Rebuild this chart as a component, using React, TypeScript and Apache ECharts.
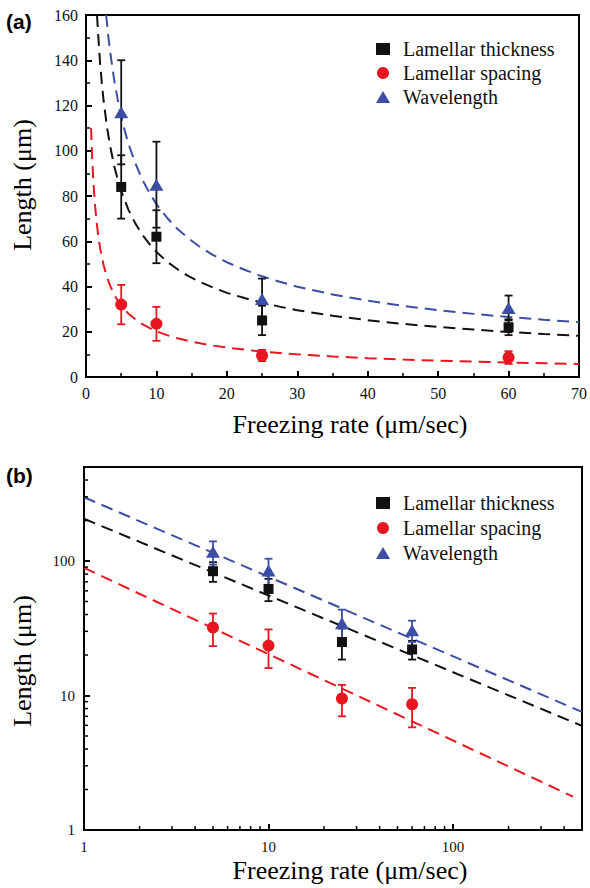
import React, { useEffect, useRef } from 'react';
import * as echarts from 'echarts';

// Measured data (same in both panels)
const rates = [5, 10, 25, 60];
const thickness = [84, 62, 25, 22];
const thicknessErr = [14, 11.7, 6.5, 3.5];
const spacing = [32, 23.5, 9.5, 8.6];
const spacingErr = [8.7, 7.5, 2.5, 2.8];
const wavelength = [117, 85, 34.5, 30.5];
const wavelengthErr = [23, 19, 9, 5.5];

// Fitted (dashed) curves
const fitThicknessA = [[1.56, 160], [1.75, 150.5], [2, 138.7], [2.25, 129.8], [2.5, 122.1], [3, 110], [3.5, 101], [4, 93.3], [4.5, 87.4], [5, 82.2], [6, 74.1], [7, 67.9], [8, 62.8], [9, 58.8], [10, 55.3], [11.5, 51], [13, 47.6], [14.5, 44.7], [16, 42.3], [18, 39.6], [20, 37.2], [22.5, 34.9], [25, 32.8], [27.5, 31.1], [30, 29.5], [35, 27.1], [40, 25.1], [45, 23.5], [50, 22.1], [55, 21], [60, 19.9], [65, 19], [70, 18.2]];
const fitSpacingA = [[0.72, 110], [0.8, 103.2], [0.9, 95.3], [1, 89], [1.25, 77.1], [1.5, 68.6], [1.75, 62.2], [2, 57], [2.5, 49.4], [3, 43.9], [3.5, 39.8], [4, 36.5], [4.5, 33.8], [5, 31.6], [6, 28.1], [7, 25.5], [8, 23.4], [9, 21.7], [10, 20.2], [11.5, 18.5], [13, 17.1], [14.5, 16], [16, 15], [18, 13.9], [20, 13], [22.5, 12.1], [25, 11.2], [27.5, 10.6], [30, 10], [35, 9.1], [40, 8.3], [45, 7.7], [50, 7.2], [55, 6.8], [60, 6.4], [65, 6.1], [70, 5.8]];
const fitWavelengthA = [[2.86, 160], [3.2, 149.6], [3.5, 142.1], [4, 131.4], [4.5, 122.7], [5, 115.1], [5.5, 108.9], [6, 103.3], [7, 94.5], [8, 87.2], [9, 81.4], [10, 76.4], [11.5, 70.4], [13, 65.4], [14.5, 61.4], [16, 57.9], [18, 54], [20, 50.7], [22.5, 47.4], [25, 44.5], [27.5, 42.1], [30, 39.9], [35, 36.5], [40, 33.7], [45, 31.4], [50, 29.5], [55, 27.9], [60, 26.5], [65, 25.3], [70, 24.2]];

// Fitted (dashed) straight lines, log-log
const fitThicknessB = [[1, 206], [500, 5.95]];
const fitSpacingB = [[1, 89], [447, 1.77]];
const fitWavelengthB = [[1, 298], [500, 7.55]];

// Axis ticks
const linXTicks = [0, 10, 20, 30, 40, 50, 60, 70];
const linYTicks = [0, 20, 40, 60, 80, 100, 120, 140, 160];
const logMinorTicks = [2, 3, 4, 5, 6, 7, 8, 9, 20, 30, 40, 50, 60, 70, 80, 90, 200, 300, 400];

const names = ['Lamellar thickness', 'Lamellar spacing', 'Wavelength'];
const BLACK = '#111111';
const RED = '#e8161e';
const BLUE = '#3c4da5';
const SERIF = 'Liberation Serif';

const pts = (xs: number[], ys: number[]) => xs.map((x, i) => [x, ys[i]]);
const errs = (xs: number[], ys: number[], es: number[]) => xs.map((x, i) => [x, ys[i] - es[i], ys[i] + es[i]]);

const errRender = (color: string) => (params: any, api: any) => {
  const x = api.value(0);
  const top = api.coord([x, api.value(2)]);
  const bot = api.coord([x, api.value(1)]);
  const w = 4;
  const style = { stroke: color, lineWidth: 1.8 };
  return {
    type: 'group',
    children: [
      { type: 'line', shape: { x1: top[0], y1: top[1], x2: bot[0], y2: bot[1] }, style },
      { type: 'line', shape: { x1: top[0] - w, y1: top[1], x2: top[0] + w, y2: top[1] }, style },
      { type: 'line', shape: { x1: bot[0] - w, y1: bot[1], x2: bot[0] + w, y2: bot[1] }, style },
    ],
  };
};

const axisCommon = (fontSize: number) => ({
  axisLine: { show: true, onZero: false, lineStyle: { color: '#000', width: 2 } },
  axisTick: { show: true, inside: true, length: 6, lineStyle: { color: '#000', width: 2 } },
  splitLine: { show: false },
  axisLabel: { fontFamily: SERIF, fontSize, color: '#111', margin: 8 },
});

export default function App() {
  const ref = useRef<HTMLDivElement>(null);
  useEffect(() => {
    if (!ref.current) return;
    const chart = echarts.init(ref.current, undefined, { renderer: 'svg' });

    const fitLine = (name: string, data: number[][], color: string, gi: number) => ({
      name, type: 'line', xAxisIndex: gi, yAxisIndex: gi, data, showSymbol: false, symbol: 'none',
      smooth: false, z: 2, silent: true,
      lineStyle: { color, width: 2, type: [12, 7] },
    });
    const errSeries = (name: string, data: number[][], color: string, gi: number) => ({
      name, type: 'custom', xAxisIndex: gi, yAxisIndex: gi, data, encode: { x: 0, y: [1, 2] },
      renderItem: errRender(color), z: 3, silent: true,
    });
    const scatter = (name: string, data: number[][], color: string, symbol: string, size: any, gi: number) => ({
      name, type: 'scatter', xAxisIndex: gi, yAxisIndex: gi, data, symbol, symbolSize: size, z: 4,
      itemStyle: { color, opacity: 1 },
    });
    const minorTicks = (axis: 'x' | 'y') => ({
      name: 'minor-' + axis, type: 'custom', xAxisIndex: 1, yAxisIndex: 1, silent: true, z: 5,
      data: logMinorTicks.map((v) => (axis === 'x' ? [v, 1] : [1, v])),
      encode: { x: 0, y: 1 },
      renderItem: (params: any, api: any) => {
        const p = api.coord([api.value(0), api.value(1)]);
        const shape = axis === 'x'
          ? { x1: p[0], y1: p[1], x2: p[0], y2: p[1] - 4 }
          : { x1: p[0], y1: p[1], x2: p[0] + 4, y2: p[1] };
        return { type: 'line', shape, style: { stroke: '#000', lineWidth: 1.5 } };
      },
    });

    const legendBase = {
      orient: 'vertical', left: 371, itemWidth: 14, itemHeight: 12,
      selectedMode: false, data: names,
      textStyle: { fontFamily: SERIF, fontSize: 20, color: '#111', lineHeight: 19, padding: [0, 0, 0, 8] },
    };

    chart.setOption({
      animation: false,
      backgroundColor: '#fff',
      grid: [
        { left: 86, top: 15, width: 496, height: 362, show: true, borderColor: '#000', borderWidth: 2, backgroundColor: 'transparent' },
        { left: 84, top: 467, width: 498, height: 363, show: true, borderColor: '#000', borderWidth: 2, backgroundColor: 'transparent' },
      ],
      xAxis: [
        {
          gridIndex: 0, type: 'value', min: linXTicks[0], max: linXTicks[linXTicks.length - 1], interval: 10,
          ...axisCommon(16),
          minorTick: { show: true, splitNumber: 2, length: 4, lineStyle: { color: '#000', width: 1.5 } },
        },
        {
          gridIndex: 1, type: 'log', logBase: 10, min: 1, max: 500,
          ...axisCommon(15),
          axisLabel: { fontFamily: SERIF, fontSize: 15, color: '#111', margin: 9, showMaxLabel: false },
        },
      ],
      yAxis: [
        {
          gridIndex: 0, type: 'value', min: linYTicks[0], max: linYTicks[linYTicks.length - 1], interval: 20,
          ...axisCommon(16),
          minorTick: { show: true, splitNumber: 2, length: 4, lineStyle: { color: '#000', width: 1.5 } },
        },
        {
          gridIndex: 1, type: 'log', logBase: 10, min: 1, max: 500,
          ...axisCommon(15),
          axisLabel: { fontFamily: SERIF, fontSize: 15, color: '#111', margin: 9, showMaxLabel: false },
        },
      ],
      legend: [
        { ...legendBase, top: 34, itemGap: 4 },
        { ...legendBase, top: 488, itemGap: 5 },
      ],
      graphic: [
        { type: 'text', left: 6, top: 11, style: { text: '(a)', font: 'bold 21px "Liberation Sans", Arial, sans-serif', fill: '#000' } },
        { type: 'text', left: 6, top: 465, style: { text: '(b)', font: 'bold 21px "Liberation Sans", Arial, sans-serif', fill: '#000' } },
        { type: 'text', x: 350, y: 424, style: { text: 'Freezing rate (μm/sec)', font: '26px "Liberation Serif"', fill: '#000', textAlign: 'center', textVerticalAlign: 'middle' } },
        { type: 'text', x: 350, y: 870, style: { text: 'Freezing rate (μm/sec)', font: '26px "Liberation Serif"', fill: '#000', textAlign: 'center', textVerticalAlign: 'middle' } },
        { type: 'text', x: 22, y: 185, rotation: Math.PI / 2, style: { text: 'Length (μm)', font: '26px "Liberation Serif"', fill: '#000', textAlign: 'center', textVerticalAlign: 'middle' } },
        { type: 'text', x: 22, y: 661, rotation: Math.PI / 2, style: { text: 'Length (μm)', font: '26px "Liberation Serif"', fill: '#000', textAlign: 'center', textVerticalAlign: 'middle' } },
      ],
      series: [
        // Panel (a)
        fitLine('fitA-th', fitThicknessA, BLACK, 0),
        fitLine('fitA-sp', fitSpacingA, RED, 0),
        fitLine('fitA-wl', fitWavelengthA, BLUE, 0),
        errSeries('errA-wl', errs(rates, wavelength, wavelengthErr), BLACK, 0),
        errSeries('errA-th', errs(rates, thickness, thicknessErr), BLACK, 0),
        errSeries('errA-sp', errs(rates, spacing, spacingErr), RED, 0),
        scatter(names[0], pts(rates, thickness), BLACK, 'rect', 10, 0),
        scatter(names[1], pts(rates, spacing), RED, 'circle', 12, 0),
        scatter(names[2], pts(rates, wavelength), BLUE, 'triangle', [14, 12], 0),
        // Panel (b)
        fitLine('fitB-th', fitThicknessB, BLACK, 1),
        fitLine('fitB-sp', fitSpacingB, RED, 1),
        fitLine('fitB-wl', fitWavelengthB, BLUE, 1),
        errSeries('errB-th', errs(rates, thickness, thicknessErr), BLACK, 1),
        errSeries('errB-wl', errs(rates, wavelength, wavelengthErr), BLUE, 1),
        errSeries('errB-sp', errs(rates, spacing, spacingErr), RED, 1),
        scatter(names[0], pts(rates, thickness), BLACK, 'rect', 10, 1),
        scatter(names[1], pts(rates, spacing), RED, 'circle', 12, 1),
        scatter(names[2], pts(rates, wavelength), BLUE, 'triangle', [14, 12], 1),
        minorTicks('x'),
        minorTicks('y'),
      ],
    });
    return () => chart.dispose();
  }, []);
  return <div ref={ref} style={{ position: 'absolute', left: 0, top: 0, width: 590, height: 888 }} />;
}
